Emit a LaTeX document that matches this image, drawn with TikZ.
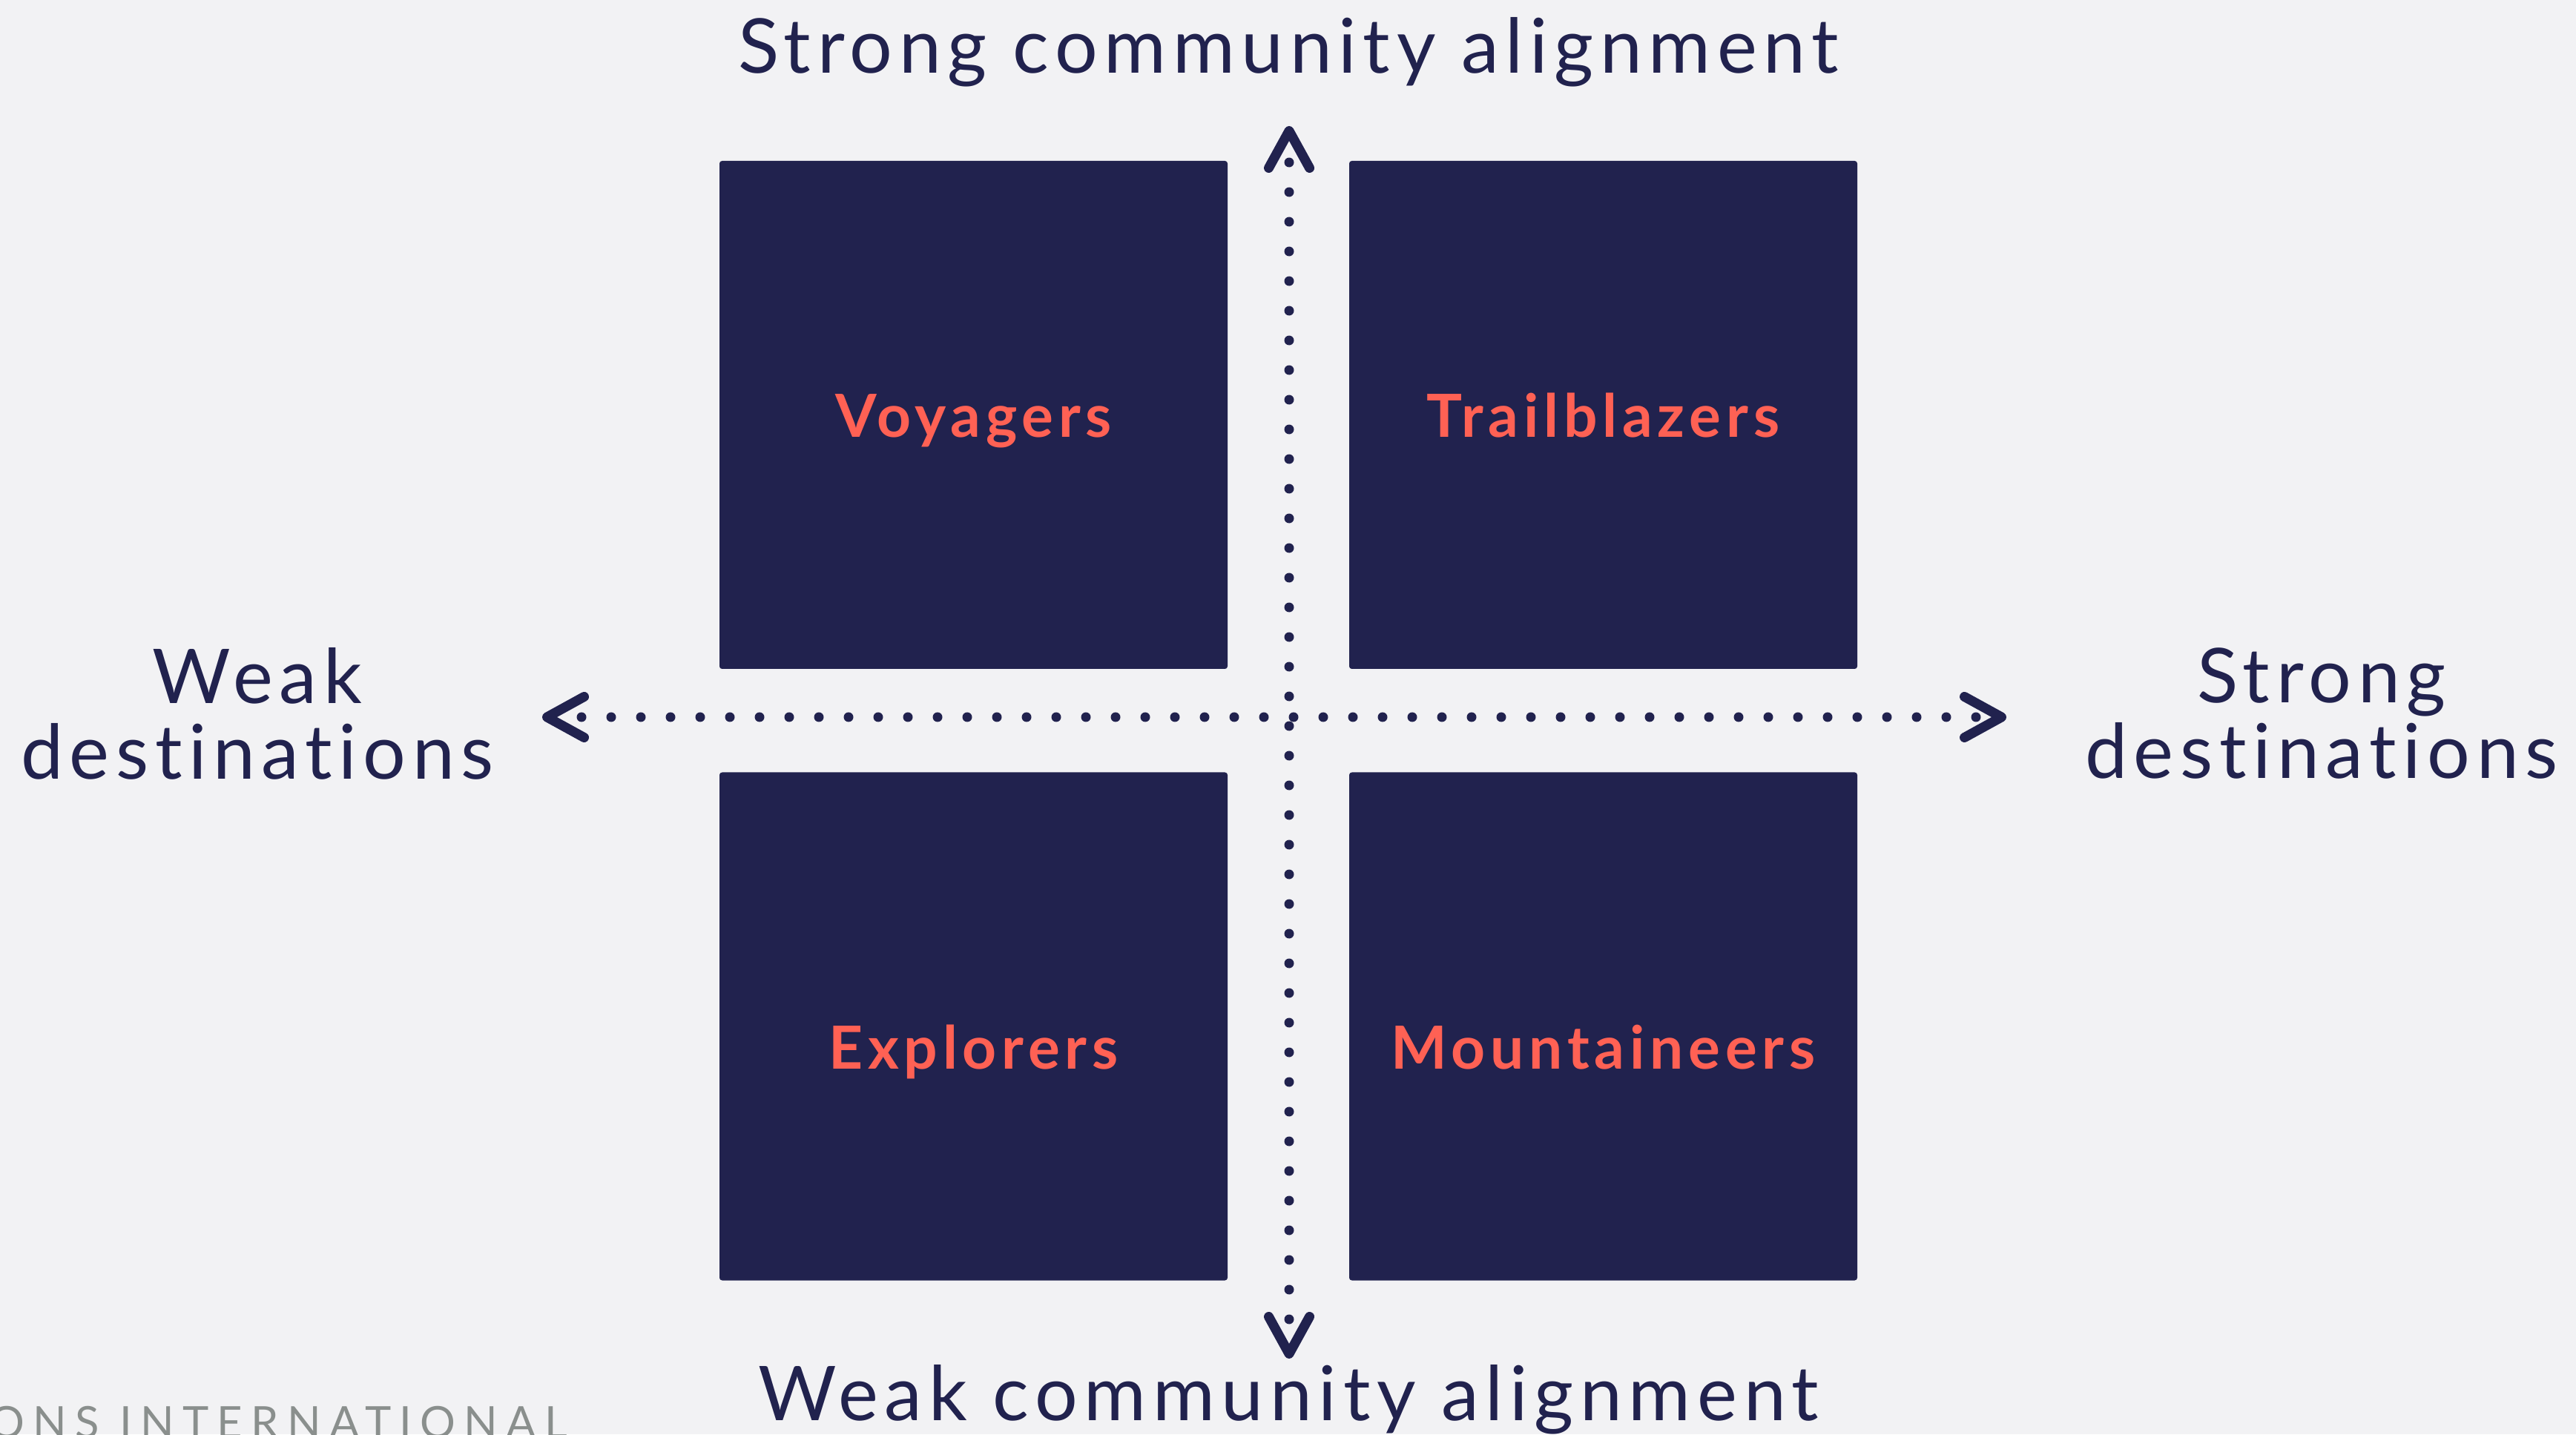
\documentclass[tikz,border=0pt]{standalone}
\usepackage{fontspec}
\setmainfont{Lato}[LetterSpace=8.5, Ligatures=NoCommon]
\newfontfamily\footfont[LetterSpace=19]{Lato}
\usepackage{xcolor}
\usetikzlibrary{arrows.meta}
\definecolor{navy}{HTML}{21224E}
\definecolor{coral}{HTML}{FF6154}
\definecolor{paper}{HTML}{F2F2F4}
\definecolor{footgrey}{HTML}{8A8F8D}

\begin{document}
\begin{tikzpicture}[
  quad/.style={fill=navy, rounded corners=1pt, minimum size=6.85cm, inner sep=0pt},
  quadtext/.style={text=coral, anchor=base, font=\fontsize{22.8pt}{24pt}\selectfont\bfseries},
  axislabel/.style={text=navy, align=center, font=\fontsize{29pt}{29pt}\selectfont},
  barb/.tip={Straight Barb[length=0.5cm,width=0.55cm,round]},
  axis/.style={navy, line width=0.13cm, line cap=round, dash pattern=on 0pt off 0.4cm, barb-barb}]
\fill[paper] (0,0) rectangle (34.73,19.34);
\useasboundingbox (0,0) rectangle (34.73,19.34);
\clip (0,0) rectangle (34.73,19.34);

\node[quad] (voy) at (13.125,13.745) {};
\node[quad] (trail) at (21.615,13.745) {};
\node[quad] (expl) at (13.125,5.50) {};
\node[quad] (mount) at (21.615,5.50) {};
\node[quadtext] (voyl) at ([yshift=-0.305cm]voy.center) {Voyagers};
\node[quadtext] (traill) at ([yshift=-0.305cm]trail.center) {Trailblazers};
\node[quadtext] (expll) at ([yshift=-0.58cm]expl.center) {Explorers};
\node[quadtext] (mountl) at ([yshift=-0.58cm]mount.center) {Mountaineers};

\coordinate (axtop) at (17.38,17.64);
\coordinate (axbot) at (17.38,1.02);
\coordinate (axleft) at (7.31,9.67);
\coordinate (axright) at (27.05,9.67);
\draw[axis] (axleft) -- (axright);
\draw[axis] (axbot) -- (axtop);

\node[axislabel, anchor=base] (strongca) at (17.37,18.35) {Strong community alignment};
\node[axislabel, anchor=base] (weakca) at (17.37,0.19) {Weak community alignment};
\node[axislabel] (weakd) at (3.47,9.72) {Weak\\destinations};
\node[axislabel] (strongd) at (31.30,9.72) {Strong\\destinations};

\node[text=footgrey, anchor=base west, inner sep=0pt, font=\footfont\fontsize{17pt}{17pt}\selectfont] (brand) at (-0.15,-0.05) {ONS INTERNATIONAL};
\end{tikzpicture}
\end{document}
